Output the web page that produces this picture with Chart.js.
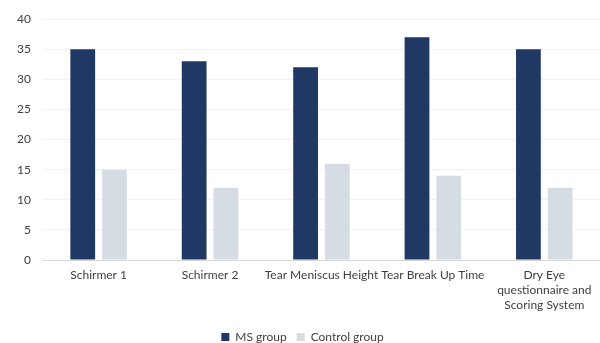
<!DOCTYPE html>
<html>
<head>
<meta charset="utf-8">
<script src="https://cdn.jsdelivr.net/npm/chart.js@4"></script>
<style>
  html, body { margin: 0; padding: 0; background: #ffffff; }
  #wrap { width: 600px; height: 343px; position: relative; }
</style>
</head>
<body>
<div id="wrap"><canvas id="chart"></canvas></div>
<script>
const categories = [
  "Schirmer 1",
  "Schirmer 2",
  "Tear Meniscus Height",
  "Tear Break Up Time",
  ["Dry Eye", "questionnaire and", "Scoring System"]
];
const msGroup = [35, 33, 32, 37, 35];
const controlGroup = [15, 12, 16, 14, 12];
const yTicks = [0, 5, 10, 15, 20, 25, 30, 35, 40];

const FONT = "Lato, 'Open Sans', sans-serif";

new Chart(document.getElementById("chart"), {
  type: "bar",
  data: {
    labels: categories,
    datasets: [
      { label: "MS group", data: msGroup, backgroundColor: "#1f3864",
        barPercentage: 0.78, categoryPercentage: 0.57 },
      { label: "Control group", data: controlGroup, backgroundColor: "#d6dce4",
        barPercentage: 0.78, categoryPercentage: 0.57 }
    ]
  },
  options: {
    responsive: true,
    maintainAspectRatio: false,
    animation: false,
    layout: { padding: { left: 5, right: 0, top: 9, bottom: -10 } },
    plugins: {
      legend: {
        position: "bottom",
        labels: {
          boxWidth: 8, boxHeight: 8, padding: 10,
          color: "#404040",
          font: { family: FONT, size: 12 }
        }
      },
      tooltip: { enabled: false }
    },
    scales: {
      x: {
        grid: { display: false, drawTicks: false },
        border: { color: "#d9d9d9", width: 1 },
        ticks: {
          color: "#404040", padding: 8, maxRotation: 0, autoSkip: false,
          font: { family: FONT, size: 12, lineHeight: 1.25 }
        }
      },
      y: {
        min: 0, max: 40,
        afterBuildTicks: (axis) => { axis.ticks = yTicks.map(v => ({ value: v })); },
        grid: { color: "#f0f0f0", drawTicks: false },
        border: { display: false },
        ticks: {
          color: "#404040", padding: 12,
          font: { family: FONT, size: 12 }
        }
      }
    }
  }
});
</script>
</body>
</html>
